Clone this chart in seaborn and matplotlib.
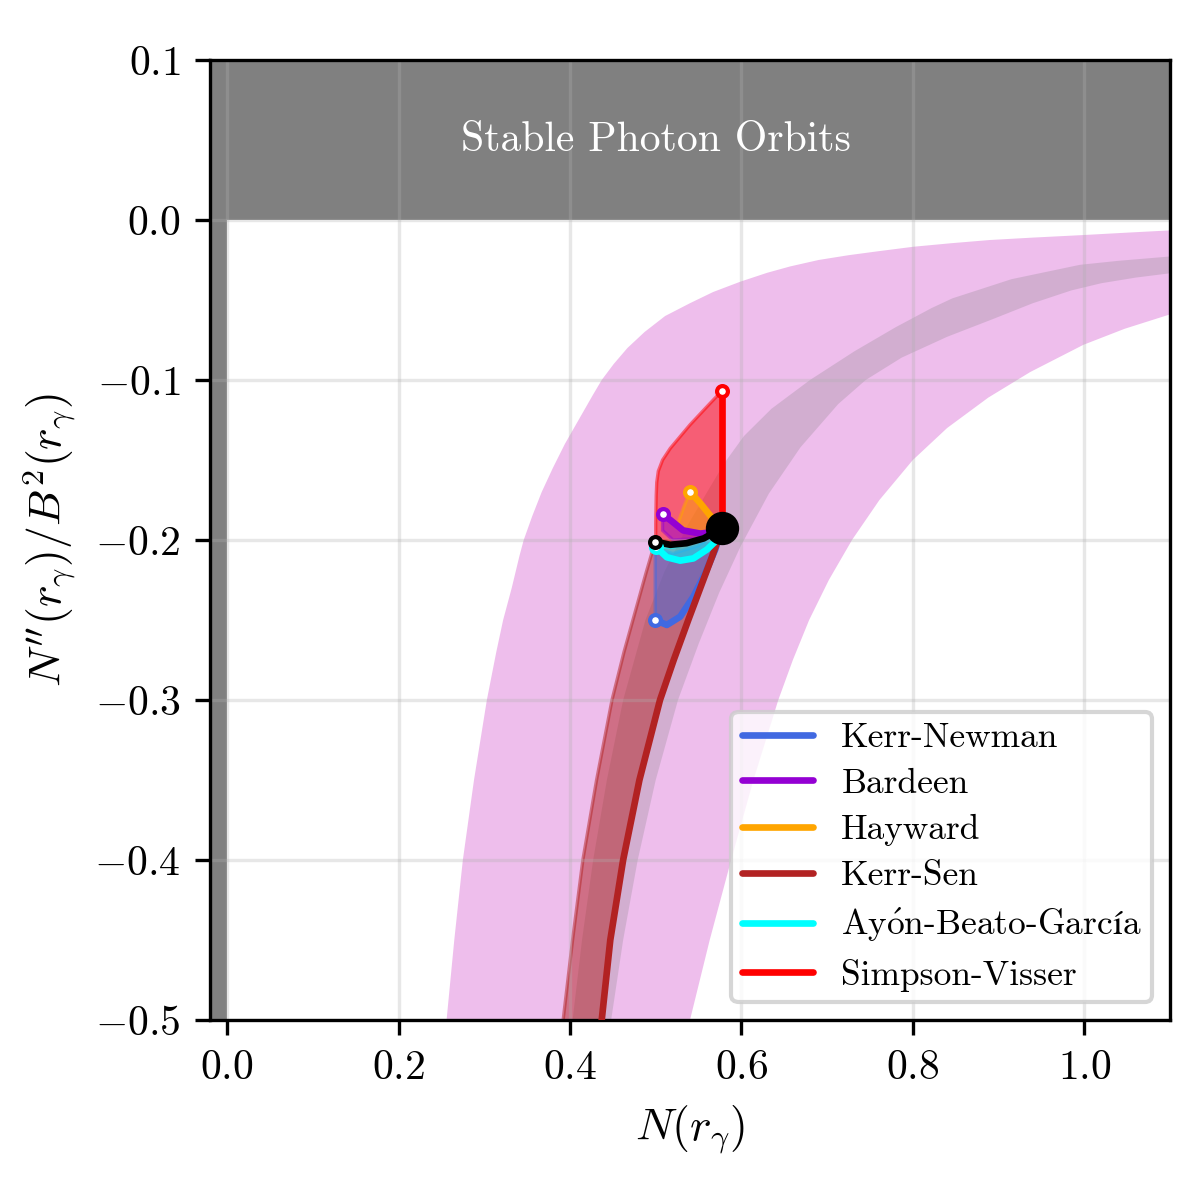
import numpy as np
import pandas as pd
import seaborn as sns
import matplotlib.pyplot as plt

band_left_x = [0.256, 0.265, 0.275, 0.288, 0.303, 0.314, 0.322, 0.332, 0.341, 0.346, 0.356, 0.367,
               0.380, 0.394, 0.410, 0.426, 0.437, 0.451, 0.467, 0.487, 0.511, 0.540, 0.567, 0.599,
               0.630, 0.657, 0.690, 0.725, 0.760, 0.801, 0.845, 0.890, 0.940, 0.999, 1.050, 1.100]
band_left_y = [-0.5, -0.45, -0.4, -0.35, -0.3, -0.27, -0.25, -0.23, -0.21, -0.2, -0.185, -0.17,
               -0.155, -0.14, -0.125, -0.11, -0.1, -0.09, -0.08, -0.07, -0.06, -0.052, -0.045, -0.0385,
               -0.033, -0.029, -0.025, -0.022, -0.0195, -0.0167, -0.0145, -0.0125, -0.011, -0.0094,
               -0.0079, -0.0065]
band_right_x = [0.540, 0.563, 0.588, 0.614, 0.643, 0.660, 0.679, 0.702, 0.729, 0.761, 0.800, 0.840,
                0.888, 0.937, 0.999, 1.047, 1.100]
band_right_y = [-0.5, -0.45, -0.4, -0.35, -0.3, -0.275, -0.25, -0.225, -0.2, -0.175, -0.15, -0.13,
                -0.111, -0.095, -0.078, -0.068, -0.059]

# inner grey band
grey_up_x = [0.403, 0.414, 0.427, 0.443, 0.462, 0.488, 0.510, 0.538, 0.560, 0.580, 0.603, 0.635,
             0.680, 0.732, 0.780, 0.822, 0.846, 0.915, 0.995, 1.040, 1.100]
grey_up_y = [-0.5, -0.45, -0.4, -0.35, -0.3, -0.25, -0.22, -0.19, -0.17, -0.152, -0.135, -0.118,
             -0.1, -0.082, -0.067, -0.055, -0.049, -0.037, -0.028, -0.0255, -0.0228]
grey_lo_x = [0.448, 0.462, 0.479, 0.500, 0.526, 0.550, 0.574, 0.599, 0.632, 0.669, 0.713, 0.745,
             0.787, 0.840, 0.893, 0.940, 0.985, 1.020, 1.060, 1.100]
grey_lo_y = [-0.5, -0.45, -0.4, -0.35, -0.3, -0.265, -0.233, -0.204, -0.171, -0.142, -0.115, -0.1,
             -0.086, -0.073, -0.062, -0.052, -0.044, -0.0395, -0.036, -0.0333]

# Schwarzschild point
schw_x = 0.5774
schw_y = -0.1925

# thick curves, from Schwarzschild to the end point
kn_x = [0.5774, 0.5694, 0.5578, 0.544, 0.5286, 0.513, 0.4994]
kn_y = [-0.1925, -0.206, -0.2208, -0.2354, -0.2479, -0.2531, -0.25]
bar_x = [0.5774, 0.5675, 0.552, 0.532, 0.517, 0.508]
bar_y = [-0.1925, -0.195, -0.196, -0.194, -0.1875, -0.184]
hay_x = [0.5774, 0.5655, 0.552, 0.540]
hay_y = [-0.1925, -0.186, -0.177, -0.1698]
ks_x = [0.5774, 0.566, 0.552, 0.538, 0.521, 0.505, 0.481, 0.462, 0.447, 0.437, 0.430]
ks_y = [-0.1925, -0.21, -0.23, -0.25, -0.275, -0.3, -0.35, -0.4, -0.45, -0.5, -0.54]
abg_x = [0.5774, 0.5694, 0.5597, 0.544, 0.5286, 0.513, 0.5006]
abg_y = [-0.1925, -0.201, -0.206, -0.2115, -0.2129, -0.2108, -0.2046]
sv_x = [0.5774, 0.5774]
sv_y = [-0.1925, -0.1067]
ref_x = [0.5774, 0.556, 0.536, 0.517, 0.4994]
ref_y = [-0.1925, -0.199, -0.202, -0.203, -0.201]

# other edge of each shaded region, from the end point back to Schwarzschild
kn_edge_x = [0.4994, 0.4994, 0.52, 0.55, 0.5774]
kn_edge_y = [-0.25, -0.205, -0.2085, -0.2035, -0.1925]
bar_edge_x = [0.508, 0.508, 0.52, 0.55, 0.5774]
bar_edge_y = [-0.184, -0.194, -0.2, -0.199, -0.1925]
hay_edge_x = [0.540, 0.533, 0.525, 0.55, 0.5774]
hay_edge_y = [-0.1698, -0.179, -0.191, -0.196, -0.1925]
ks_edge_x = [0.386, 0.392, 0.403, 0.415, 0.431, 0.449, 0.463, 0.476, 0.489, 0.500, 0.536, 0.5774]
ks_edge_y = [-0.54, -0.5, -0.45, -0.4, -0.35, -0.3, -0.27, -0.245, -0.22, -0.2, -0.202, -0.1925]
abg_edge_x = [0.5006, 0.52, 0.545, 0.5774]
abg_edge_y = [-0.2046, -0.2045, -0.2015, -0.1925]
sv_edge_x = [0.5774, 0.5597, 0.540, 0.517, 0.508, 0.503, 0.5012, 0.5006, 0.500, 0.500,
             0.536, 0.556, 0.5774]
sv_edge_y = [-0.1067, -0.1167, -0.128, -0.1427, -0.150, -0.157, -0.164, -0.172, -0.19, -0.2,
             -0.202, -0.199, -0.1925]

abg_label = r'Ay$\acute{\mathrm{o}}$n-Beato-Garc$\mathrm{í}$a'
models = ['Kerr-Newman', 'Bardeen', 'Hayward', 'Kerr-Sen', abg_label, 'Simpson-Visser']
colors = ['royalblue', 'darkviolet', 'orange', 'firebrick', 'cyan', 'red']

sns.set_style('ticks')
plt.rcParams['font.family'] = 'serif'
plt.rcParams['font.serif'] = ['cmr10']
plt.rcParams['mathtext.fontset'] = 'cm'
plt.rcParams['axes.formatter.use_mathtext'] = True
plt.rcParams['axes.unicode_minus'] = True
for k in ['axes.edgecolor', 'xtick.color', 'ytick.color', 'axes.labelcolor', 'text.color']:
    plt.rcParams[k] = 'black'

fig, ax = plt.subplots(figsize=(4, 4), dpi=300)
fig.subplots_adjust(left=0.175, right=0.975, bottom=0.15, top=0.95)

# excluded regions
ax.axhspan(0, 0.2, color='grey', lw=0, zorder=0.3)
ax.axvspan(-0.1, 0, color='grey', lw=0, zorder=0.3)
ax.text(0.5, 0.05, 'Stable Photon Orbits', color='white', fontsize=10,
        ha='center', va='center', zorder=4)

# bands
ax.fill(band_left_x + band_right_x[::-1], band_left_y + band_right_y[::-1],
        color='orchid', alpha=0.45, lw=0, zorder=0.5)
ax.fill(grey_up_x + grey_lo_x[::-1], grey_up_y + grey_lo_y[::-1],
        color='grey', alpha=0.25, lw=0, zorder=0.6)

# shaded parameter regions
lines = {'Kerr-Newman': (kn_x, kn_y, kn_edge_x, kn_edge_y),
         'Bardeen': (bar_x, bar_y, bar_edge_x, bar_edge_y),
         'Hayward': (hay_x, hay_y, hay_edge_x, hay_edge_y),
         'Kerr-Sen': (ks_x, ks_y, ks_edge_x, ks_edge_y),
         abg_label: (abg_x, abg_y, abg_edge_x, abg_edge_y),
         'Simpson-Visser': (sv_x, sv_y, sv_edge_x, sv_edge_y)}
pal = dict(zip(models, colors))

fill_order = ['Kerr-Sen', 'Simpson-Visser', 'Kerr-Newman', 'Bardeen', 'Hayward', abg_label]
for name in fill_order:
    x, y, ex, ey = lines[name]
    ax.fill(x + ex, y + ey, color=pal[name], alpha=0.5, lw=0.8, zorder=1)

frames = []
for name in models:
    x, y, _, _ = lines[name]
    frames.append(pd.DataFrame({'N': x, 'Npp': y, 'model': name}))
df = pd.concat(frames, ignore_index=True)

sns.lineplot(data=df, x='N', y='Npp', hue='model', hue_order=models, palette=pal,
             sort=False, estimator=None, lw=1.6, ax=ax, zorder=3)

ax.plot(ref_x, ref_y, color='black', lw=1.6, zorder=3.5)

# end points
for name in models:
    if name == 'Kerr-Sen':
        continue
    x, y, _, _ = lines[name]
    ax.plot(x[-1], y[-1], 'o', ms=2.6, mfc='white', mec=pal[name], mew=1.0, zorder=5)
ax.plot(ref_x[-1], ref_y[-1], 'o', ms=2.6, mfc='white', mec='black', mew=1.0, zorder=5)
ax.plot(schw_x, schw_y, 'o', ms=7, color='black', zorder=6)

ax.set_xlim(-0.02, 1.1)
ax.set_ylim(-0.5, 0.1)
ax.set_xticks([0.0, 0.2, 0.4, 0.6, 0.8, 1.0])
ax.set_yticks([0.1, 0.0, -0.1, -0.2, -0.3, -0.4, -0.5])
ax.set_axisbelow('line')
ax.grid(True, color='#b0b0b0', alpha=0.3, lw=0.8)
ax.set_xlabel(r'$N(r_\gamma)$', fontsize=11)
ax.set_ylabel(r"$N''(r_\gamma)/B^2(r_\gamma)$", fontsize=11)
ax.tick_params(labelsize=10)
for s in ax.spines.values():
    s.set_color('black')
    s.set_linewidth(0.8)

sns.move_legend(ax, 'lower right', title=None, fontsize=8.5, frameon=True,
                labelspacing=0.4, borderpad=0.3)

fig.savefig('out.png', dpi=300)
